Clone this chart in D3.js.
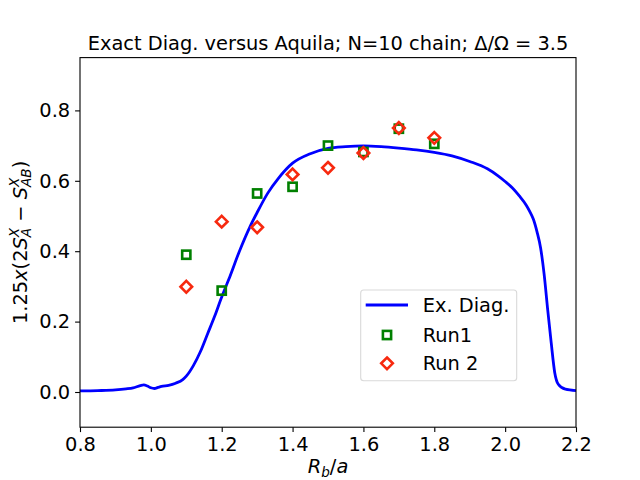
<!DOCTYPE html>
<html>
<head>
<meta charset="utf-8">
<script src="https://cdn.jsdelivr.net/npm/d3@7"></script>
<style>
  body { margin: 0; background: #fff; }
  text { font-family: "DejaVu Sans", sans-serif; }
</style>
</head>
<body>
<div id="chart"></div>
<script>
// Exact diagonalization curve
const edX = [0.80, 0.85, 0.90, 0.93, 0.95, 0.97, 0.98, 0.99, 1.00, 1.01, 1.02, 1.03, 1.05, 1.07, 1.09,
  1.10, 1.12, 1.14, 1.16, 1.18, 1.20, 1.22, 1.25, 1.28, 1.30, 1.33, 1.36, 1.40, 1.45, 1.50,
  1.55, 1.60, 1.65, 1.70, 1.75, 1.80, 1.85, 1.90, 1.95, 1.98, 2.00, 2.02, 2.04, 2.06, 2.07, 2.08,
  2.09, 2.10, 2.11, 2.12, 2.13, 2.14, 2.15, 2.17, 2.20];
const edY = [0.003, 0.004, 0.006, 0.009, 0.012, 0.018, 0.020, 0.017, 0.012, 0.010, 0.013, 0.016, 0.019, 0.025, 0.035,
  0.045, 0.075, 0.115, 0.165, 0.215, 0.270, 0.320, 0.400, 0.470, 0.510, 0.565, 0.607, 0.650, 0.677, 0.692,
  0.697, 0.699, 0.697, 0.693, 0.688, 0.681, 0.671, 0.655, 0.634, 0.614, 0.598, 0.580, 0.557, 0.530, 0.512, 0.490,
  0.455, 0.410, 0.335, 0.235, 0.140, 0.055, 0.022, 0.008, 0.004];

// Aquila runs
const runX = [1.1, 1.2, 1.3, 1.4, 1.5, 1.6, 1.7, 1.8];
const run1 = [0.390, 0.288, 0.564, 0.583, 0.700, 0.682, 0.748, 0.705];
const run2 = [0.299, 0.484, 0.468, 0.618, 0.637, 0.679, 0.750, 0.722];

const xTicks = [0.8, 1.0, 1.2, 1.4, 1.6, 1.8, 2.0, 2.2];
const yTicks = [0.0, 0.2, 0.4, 0.6, 0.8];
const legendLabels = ["Ex. Diag.", "Run1", "Run 2"];

const width = 640, height = 480;
const pLeft = 80, pRight = 576, pTop = 57.6, pBottom = 427.2;
const fs = 19.4;

const svg = d3.select("#chart").append("svg")
  .attr("width", width)
  .attr("height", height);

const x = d3.scaleLinear().domain([0.8, 2.2]).range([pLeft, pRight]);
const y = d3.scaleLinear().domain([-0.1, 0.95]).range([pBottom, pTop]);

// clip
svg.append("clipPath").attr("id", "clip")
  .append("rect")
    .attr("x", pLeft).attr("y", pTop)
    .attr("width", pRight - pLeft).attr("height", pBottom - pTop);

// Curve
const line = d3.line()
  .x((d, i) => x(edX[i]))
  .y(d => y(d))
  .curve(d3.curveMonotoneX);

svg.append("path")
  .attr("clip-path", "url(#clip)")
  .attr("d", line(edY))
  .attr("fill", "none")
  .attr("stroke", "#0000ff")
  .attr("stroke-width", 2.8)
  .attr("stroke-linejoin", "round");

// Run1 squares
const sq = 8.2;
svg.append("g").selectAll("rect")
  .data(run1)
  .enter().append("rect")
    .attr("x", (d, i) => x(runX[i]) - sq / 2)
    .attr("y", d => y(d) - sq / 2)
    .attr("width", sq)
    .attr("height", sq)
    .attr("fill", "none")
    .attr("stroke", "#008000")
    .attr("stroke-width", 2.6);

// Run 2 diamonds
const dm = 5.8;
const diamond = (cx, cy) => `M${cx},${cy - dm}L${cx + dm},${cy}L${cx},${cy + dm}L${cx - dm},${cy}Z`;
svg.append("g").selectAll("path")
  .data(run2)
  .enter().append("path")
    .attr("d", (d, i) => diamond(x(runX[i]), y(d)))
    .attr("fill", "none")
    .attr("stroke", "#f7290f")
    .attr("stroke-width", 2.6)
    .attr("stroke-linejoin", "miter");

// Axes
const xAxis = svg.append("g")
  .attr("transform", `translate(0,${pBottom})`)
  .call(d3.axisBottom(x).tickValues(xTicks).tickFormat(d3.format(".1f"))
    .tickSizeInner(4.9).tickSizeOuter(0).tickPadding(4.9));
const yAxis = svg.append("g")
  .attr("transform", `translate(${pLeft},0)`)
  .call(d3.axisLeft(y).tickValues(yTicks).tickFormat(d3.format(".1f"))
    .tickSizeInner(4.9).tickSizeOuter(0).tickPadding(4.9));

[xAxis, yAxis].forEach(a => {
  a.select(".domain").remove();
  a.selectAll("line").attr("stroke", "#000").attr("stroke-width", 1.1);
  a.selectAll("text").attr("font-size", fs).attr("fill", "#000")
    .attr("font-family", "DejaVu Sans");
});

// Frame
svg.append("rect")
  .attr("x", pLeft).attr("y", pTop)
  .attr("width", pRight - pLeft).attr("height", pBottom - pTop)
  .attr("fill", "none")
  .attr("stroke", "#000")
  .attr("stroke-width", 1.1);

// Title
svg.append("text")
  .attr("x", (pLeft + pRight) / 2)
  .attr("y", 50)
  .attr("text-anchor", "middle")
  .attr("font-size", fs)
  .text("Exact Diag. versus Aquila; N=10 chain; Δ/Ω = 3.5");

// X label
const xl = svg.append("text")
  .attr("x", (pLeft + pRight) / 2)
  .attr("y", 473)
  .attr("text-anchor", "middle")
  .attr("font-size", fs);
xl.append("tspan").attr("font-style", "italic").text("R");
xl.append("tspan").attr("font-style", "italic").attr("font-size", 13.6).attr("dy", 4).text("b");
xl.append("tspan").attr("dy", -4).text("/");
xl.append("tspan").attr("font-style", "italic").text("a");

// Y label
const yl = svg.append("text")
  .attr("transform", `translate(27,${(pTop + pBottom) / 2}) rotate(-90)`)
  .attr("text-anchor", "middle")
  .attr("font-size", fs);
const small = 13.6;
yl.append("tspan").text("1.25");
yl.append("tspan").attr("font-style", "italic").text("x");
yl.append("tspan").text("(2");
yl.append("tspan").attr("font-style", "italic").text("S");
yl.append("tspan").attr("font-style", "italic").attr("font-size", small).attr("dy", 4).text("A");
yl.append("tspan").attr("font-style", "italic").attr("font-size", small).attr("dx", -9.3).attr("dy", -12).text("X");
yl.append("tspan").attr("dy", 8).text(" − ");
yl.append("tspan").attr("font-style", "italic").text("S");
yl.append("tspan").attr("font-style", "italic").attr("font-size", small).attr("dy", 4).text("AB");
yl.append("tspan").attr("font-style", "italic").attr("font-size", small).attr("dx", -18.6).attr("dy", -12).text("X");
yl.append("tspan").attr("dx", 9.3).attr("dy", 8).text(")");

// Legend
const lg = svg.append("g");
lg.append("rect")
  .attr("x", 360.7).attr("y", 290)
  .attr("width", 156).attr("height", 90.7)
  .attr("rx", 3)
  .attr("fill", "#fff")
  .attr("fill-opacity", 0.8)
  .attr("stroke", "#d9d9d9")
  .attr("stroke-width", 1.1);

const rowY = [305, 335, 363.3];
lg.append("line")
  .attr("x1", 365.7).attr("x2", 408)
  .attr("y1", rowY[0]).attr("y2", rowY[0])
  .attr("stroke", "#0000ff").attr("stroke-width", 2.8);
lg.append("rect")
  .attr("x", 387 - sq / 2).attr("y", rowY[1] - sq / 2)
  .attr("width", sq).attr("height", sq)
  .attr("fill", "none").attr("stroke", "#008000").attr("stroke-width", 2.6);
lg.append("path")
  .attr("d", diamond(387, rowY[2]))
  .attr("fill", "none").attr("stroke", "#f7290f").attr("stroke-width", 2.6);

lg.selectAll(".legends")
  .data(legendLabels)
  .enter().append("text")
    .attr("x", 422.7)
    .attr("y", (d, i) => rowY[i] + 7)
    .attr("font-size", fs)
    .text(d => d);
</script>
</body>
</html>
